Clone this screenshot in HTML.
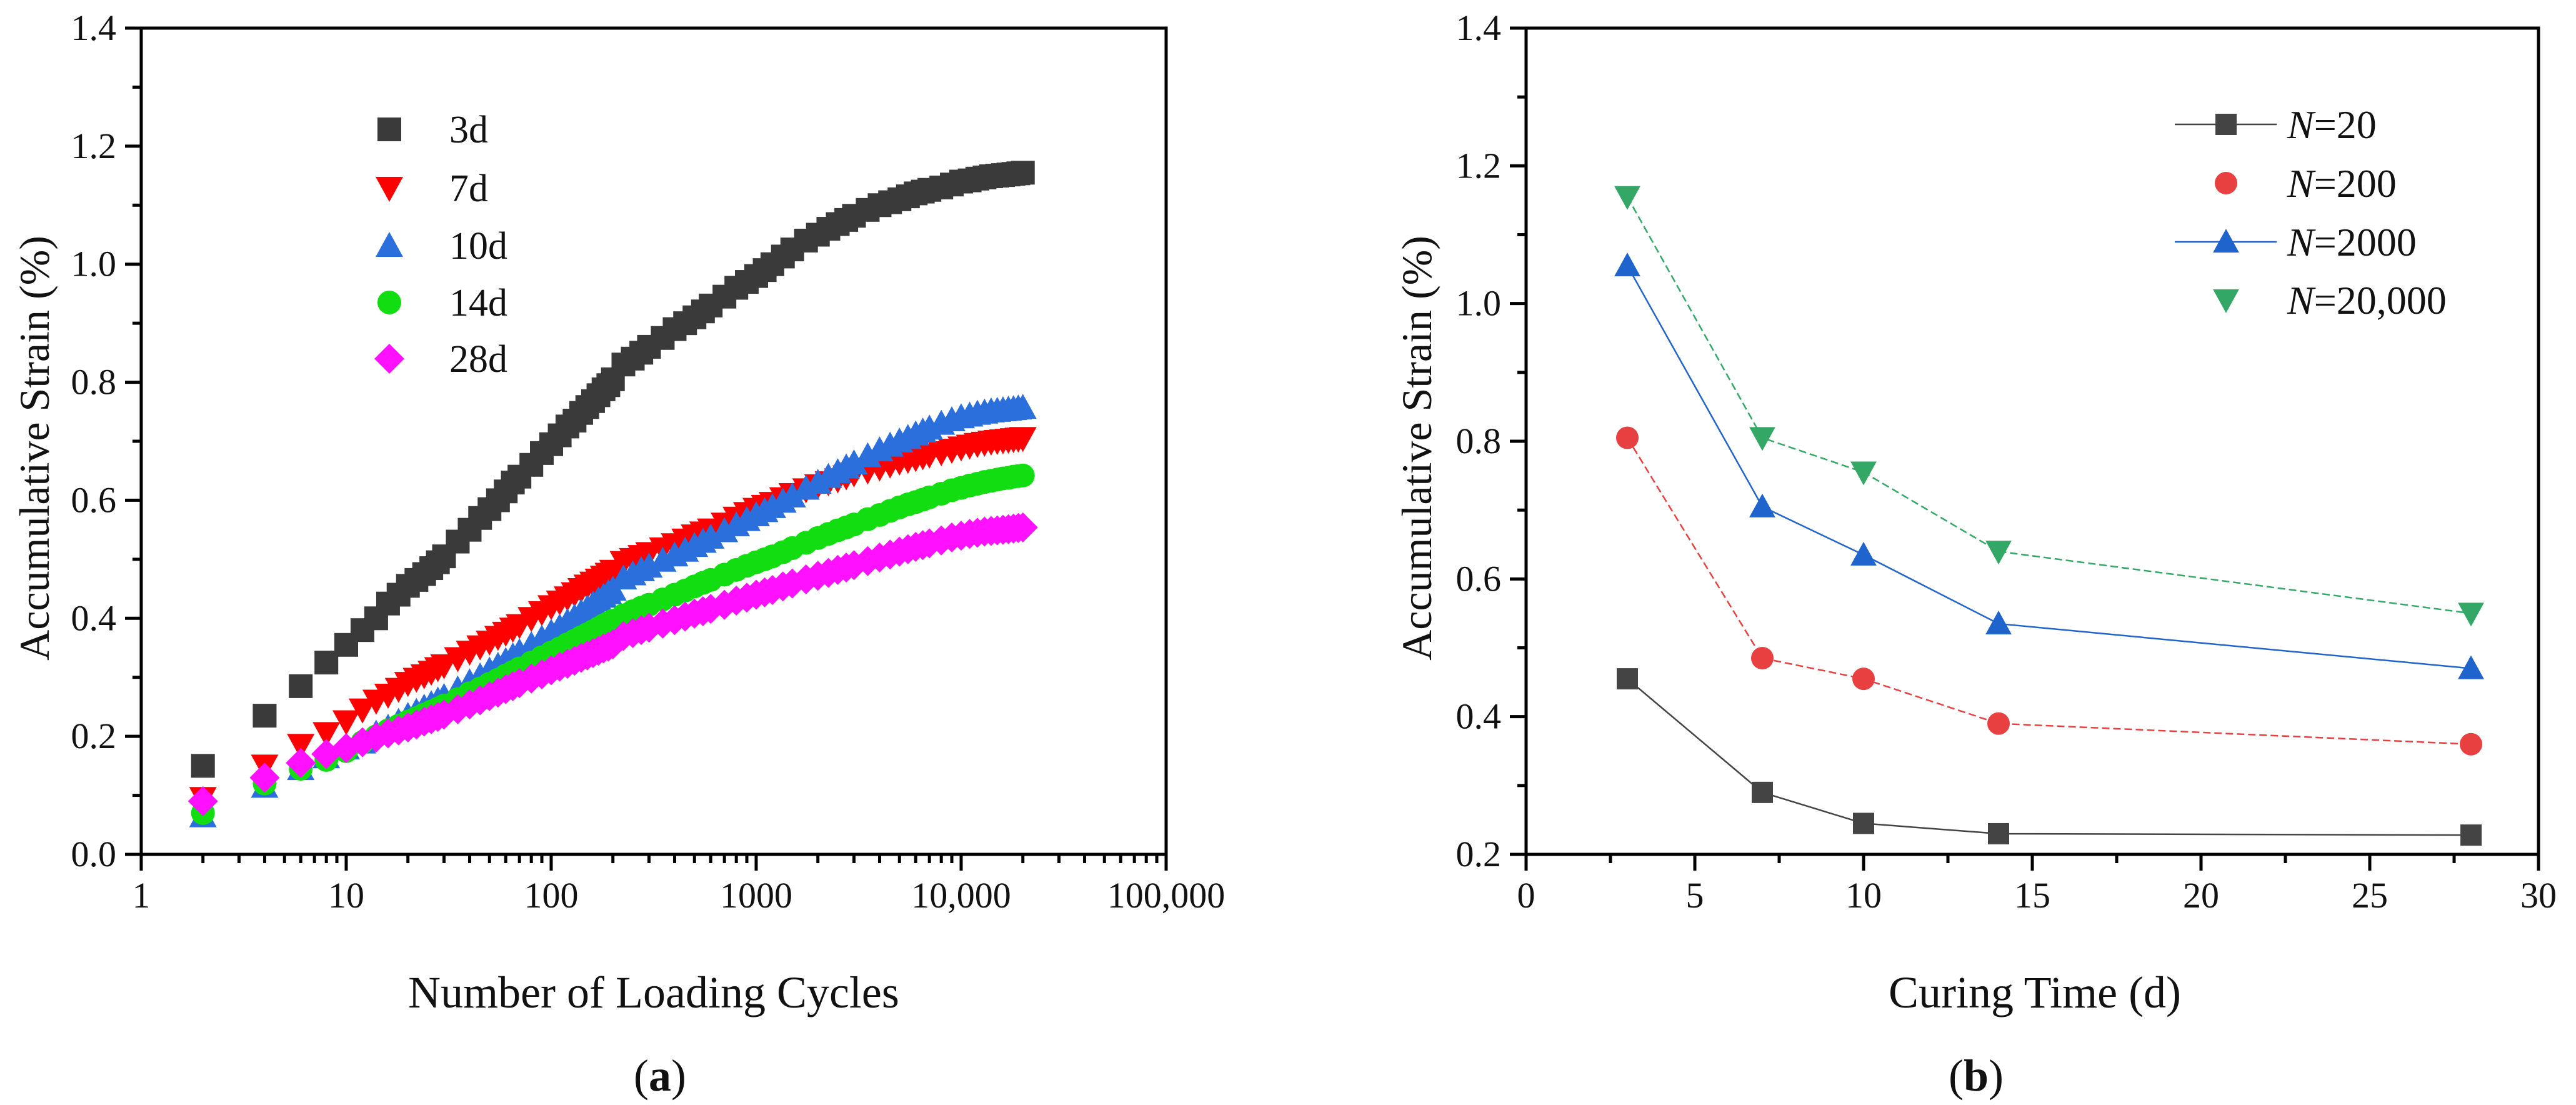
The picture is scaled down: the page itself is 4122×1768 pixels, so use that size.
<!DOCTYPE html>
<html><head><meta charset="utf-8">
<style>
html,body{margin:0;padding:0;background:#fff;}
svg{display:block;font-family:"Liberation Serif",serif;}
</style></head>
<body>
<svg id="fig" width="4122" height="1768" viewBox="0 0 4122 1768" xmlns="http://www.w3.org/2000/svg">
<rect width="4122" height="1768" fill="#fff"/>
<g id="pa"></g>
<g id="pb"></g>
</svg>
<script>
// Panel (a) data
const cyclesA = [2,4,6,8,10,12,14,16,18,20,22,24,26,28,30,35,40,45,50,55,60,65,70,80,90,100,110,120,130,140,150,160,170,180,190,200,225,250,275,300,350,400,450,500,550,600,700,800,900,1000,1100,1200,1350,1500,1750,2000,2250,2500,2750,3000,3500,4000,4500,5000,5500,6000,6500,7000,8000,9000,10000,11000,12000,13000,14000,15000,16000,17000,18000,19000,20000];
const s3d = [.15,.235,.285,.325,.355,.38,.40,.425,.44,.455,.465,.475,.485,.495,.505,.53,.55,.57,.585,.60,.615,.63,.64,.66,.68,.695,.71,.725,.735,.748,.758,.768,.778,.788,.795,.805,.83,.84,.85,.86,.875,.89,.90,.91,.92,.93,.945,.96,.97,.98,.99,1.0,1.013,1.025,1.04,1.05,1.06,1.068,1.075,1.082,1.092,1.10,1.105,1.11,1.115,1.12,1.123,1.126,1.13,1.135,1.14,1.142,1.145,1.147,1.149,1.15,1.151,1.152,1.153,1.154,1.155];
const s7d = [.095,.15,.185,.205,.225,.245,.26,.27,.28,.29,.297,.303,.309,.315,.32,.332,.343,.352,.36,.368,.375,.382,.388,.40,.41,.42,.428,.435,.442,.449,.455,.46,.465,.47,.475,.48,.495,.50,.505,.51,.518,.525,.533,.54,.545,.55,.56,.57,.578,.585,.59,.595,.603,.61,.618,.625,.63,.635,.64,.645,.65,.655,.66,.665,.668,.671,.674,.677,.681,.685,.689,.692,.695,.697,.699,.70,.701,.702,.703,.704,.705];
const s10d = [.065,.115,.145,.165,.18,.19,.205,.215,.225,.235,.242,.249,.255,.261,.267,.28,.292,.302,.312,.32,.328,.336,.343,.355,.366,.376,.385,.394,.402,.41,.417,.424,.431,.437,.443,.449,.468,.475,.482,.488,.498,.507,.515,.523,.53,.537,.548,.558,.567,.575,.582,.589,.598,.607,.62,.63,.64,.648,.656,.663,.675,.685,.693,.70,.706,.712,.717,.722,.73,.736,.741,.744,.747,.749,.751,.752,.753,.754,.755,.756,.757];
const s14d = [.07,.12,.145,.16,.175,.19,.20,.21,.218,.225,.231,.237,.242,.247,.252,.263,.273,.281,.289,.296,.303,.309,.315,.325,.334,.342,.349,.356,.362,.368,.373,.378,.383,.388,.392,.396,.405,.412,.418,.423,.432,.44,.447,.454,.46,.465,.474,.482,.489,.495,.50,.505,.512,.519,.528,.536,.543,.549,.554,.559,.568,.575,.582,.588,.593,.597,.601,.605,.611,.617,.621,.625,.628,.631,.633,.635,.637,.638,.64,.641,.642];
const s28d = [.09,.13,.155,.17,.18,.19,.198,.205,.21,.215,.22,.225,.229,.233,.237,.246,.254,.261,.268,.274,.28,.285,.29,.298,.305,.312,.318,.323,.328,.333,.337,.341,.345,.349,.352,.356,.37,.375,.38,.384,.391,.397,.403,.408,.412,.416,.423,.43,.435,.44,.444,.448,.454,.459,.466,.472,.477,.482,.486,.49,.497,.503,.508,.513,.517,.521,.524,.527,.532,.537,.54,.543,.545,.547,.548,.549,.55,.551,.552,.553,.554];
const xTicksA = [1,10,100,1000,10000,100000];
const xTickLabelsA = ["1","10","100","1000","10,000","100,000"];
const yTicksA = [0,0.2,0.4,0.6,0.8,1.0,1.2,1.4];
const yTickLabelsA = ["0.0","0.2","0.4","0.6","0.8","1.0","1.2","1.4"];
const seriesNamesA = ["3d","7d","10d","14d","28d"];

// Panel (b) data
const curingDays = [3,7,10,14,28];
const n20 = [0.455,0.29,0.245,0.23,0.228];
const n200 = [0.805,0.485,0.455,0.39,0.36];
const n2000 = [1.055,0.705,0.635,0.535,0.47];
const n20000 = [1.155,0.805,0.755,0.64,0.55];
const xTicksB = [0,5,10,15,20,25,30];
const yTicksB = [0.2,0.4,0.6,0.8,1.0,1.2,1.4];
const yTickLabelsB = ["0.2","0.4","0.6","0.8","1.0","1.2","1.4"];
const seriesNamesB = ["=20","=200","=2000","=20,000"];

const NS="http://www.w3.org/2000/svg";
function mk(parent,tag,attrs){const e=document.createElementNS(NS,tag);for(const k in attrs)e.setAttribute(k,attrs[k]);parent.appendChild(e);return e;}

function marker(g,shape,cx,cy,s,fill){
  let e;
  if(shape==="square"){e=mk(g,"rect",{x:cx-s/2,y:cy-s/2,width:s,height:s,fill:fill});}
  else if(shape==="circle"){e=mk(g,"circle",{cx:cx,cy:cy,r:s/2,fill:fill});}
  else if(shape==="up"){e=mk(g,"polygon",{points:`${cx},${cy-s*0.55} ${cx+s*0.55},${cy+s*0.45} ${cx-s*0.55},${cy+s*0.45}`,fill:fill});}
  else if(shape==="down"){e=mk(g,"polygon",{points:`${cx},${cy+s*0.55} ${cx+s*0.55},${cy-s*0.45} ${cx-s*0.55},${cy-s*0.45}`,fill:fill});}
  else {e=mk(g,"polygon",{points:`${cx},${cy-s*0.6} ${cx+s*0.6},${cy} ${cx},${cy+s*0.6} ${cx-s*0.6},${cy}`,fill:fill});}
  return e;
}

// ---------- Panel A ----------
(function(){
  const g=document.getElementById("pa");
  const L=226,R=1866,T=45,B=1367;
  const xs=v=>L+(Math.log10(v)-0)/5*(R-L);
  const ys=v=>B-(v/1.4)*(B-T);
  const frame=mk(g,"rect",{x:L,y:T,width:R-L,height:B-T,fill:"none",stroke:"#000","stroke-width":5});
  
  
  xTicksA.forEach((v,i)=>{
    const x=xs(v);
    const t=mk(g,"line",{x1:x,y1:B,x2:x,y2:B+26,stroke:"#000","stroke-width":5});
    
    
    const lb=mk(g,"text",{x:x,y:B+85,"font-size":58,"text-anchor":"middle",fill:"#111"});
    lb.textContent=xTickLabelsA[i];
    
    
    if(i<xTicksA.length-1){
      for(let m=2;m<=9;m++){
        const xm=xs(v*m);
        const mt=mk(g,"line",{x1:xm,y1:B,x2:xm,y2:B+14,stroke:"#000","stroke-width":5});
        
        
      }
    }
  });
  yTicksA.forEach((v,i)=>{
    const y=ys(v);
    const t=mk(g,"line",{x1:L-26,y1:y,x2:L,y2:y,stroke:"#000","stroke-width":5});
    
    
    const lb=mk(g,"text",{x:L-40,y:y+19,"font-size":58,"text-anchor":"end",fill:"#111"});
    lb.textContent=yTickLabelsA[i];
    
    
    if(i<yTicksA.length-1){
      const ym=ys(v+0.1);
      const mt=mk(g,"line",{x1:L-14,y1:ym,x2:L,y2:ym,stroke:"#000","stroke-width":5});
      
      
    }
  });
  const seriesA=[s3d,s7d,s10d,s14d,s28d];
  const shapesA=["square","down","up","circle","diamond"];
  const colorsA=["#3a3a3a","#ff0000","#2a6fdb","#11dd11","#ff11ff"];
  const sizesA=[38,40,40,38,40];
  seriesA.forEach((arr,si)=>{
    const sg=mk(g,"g",{});
    
    
    arr.forEach((v,j)=>{
      const p=marker(sg,shapesA[si],xs(cyclesA[j]),ys(v),sizesA[si],colorsA[si]);
      
      
    });
  });
  const lg=mk(g,"g",{});
  
  
  const legY=[207,301,393,484,574];
  seriesNamesA.forEach((n,i)=>{
    const eg=mk(lg,"g",{});
    
    
    marker(eg,shapesA[i],623,legY[i],sizesA[i],colorsA[i]);
    const t=mk(eg,"text",{x:719,y:legY[i]+21,"font-size":62,fill:"#111"});
    t.textContent=n;
  });
  const xt=mk(g,"text",{x:1046,y:1612,"font-size":72,"text-anchor":"middle",fill:"#111"});
  xt.textContent="Number of Loading Cycles";
  
  
  const yt=mk(g,"text",{x:0,y:0,"font-size":68,"text-anchor":"middle",fill:"#111",transform:"translate(78,717) rotate(-90)"});
  yt.textContent="Accumulative Strain (%)";
  
  
  const cap=mk(g,"text",{x:1056,y:1745,"font-size":72,"text-anchor":"middle",fill:"#111"});
  cap.innerHTML='(<tspan font-weight="bold">a</tspan>)';
  
  
})();

// ---------- Panel B ----------
(function(){
  const g=document.getElementById("pb");
  const L=2442,R=4062,T=45,B=1367;
  const xs=v=>L+v/30*(R-L);
  const ys=v=>B-(v-0.2)/1.2*(B-T);
  const frame=mk(g,"rect",{x:L,y:T,width:R-L,height:B-T,fill:"none",stroke:"#000","stroke-width":5});
  
  
  xTicksB.forEach((v,i)=>{
    const x=xs(v);
    const t=mk(g,"line",{x1:x,y1:B,x2:x,y2:B+26,stroke:"#000","stroke-width":5});
    
    
    const lb=mk(g,"text",{x:x,y:B+85,"font-size":58,"text-anchor":"middle",fill:"#111"});
    lb.textContent=String(v);
    
    
    if(i<xTicksB.length-1){
      const xm=xs(v+2.5);
      const mt=mk(g,"line",{x1:xm,y1:B,x2:xm,y2:B+14,stroke:"#000","stroke-width":5});
      
      
    }
  });
  yTicksB.forEach((v,i)=>{
    const y=ys(v);
    const t=mk(g,"line",{x1:L-26,y1:y,x2:L,y2:y,stroke:"#000","stroke-width":5});
    
    
    const lb=mk(g,"text",{x:L-40,y:y+19,"font-size":58,"text-anchor":"end",fill:"#111"});
    lb.textContent=yTickLabelsB[i];
    
    
    if(i<yTicksB.length-1){
      const ym=ys(v+0.1);
      const mt=mk(g,"line",{x1:L-14,y1:ym,x2:L,y2:ym,stroke:"#000","stroke-width":5});
      
      
    }
  });
  const seriesB=[n20,n200,n2000,n20000];
  const shapesB=["square","circle","up","down"];
  const colorsB=["#444444","#e84040","#1f63cc","#33a866"];
  const sizesB=[34,36,38,38];
  const dashB=["none","12 6","none","12 6"];
  seriesB.forEach((arr,si)=>{
    const sg=mk(g,"g",{});
    
    
    const pts=arr.map((v,j)=>xs(curingDays[j])+","+ys(v)).join(" ");
    const ln=mk(sg,"polyline",{points:pts,fill:"none",stroke:colorsB[si],"stroke-width":2.5,"stroke-dasharray":dashB[si]});
    
    
    arr.forEach((v,j)=>{
      const p=marker(sg,shapesB[si],xs(curingDays[j]),ys(v),sizesB[si],colorsB[si]);
      
      
    });
  });
  const lg=mk(g,"g",{});
  
  
  const legY=[199,293,387,480];
  const legLine=[true,false,true,false];
  seriesNamesB.forEach((n,i)=>{
    const eg=mk(lg,"g",{});
    
    
    if(legLine[i]) mk(eg,"line",{x1:3480,y1:legY[i],x2:3643,y2:legY[i],stroke:colorsB[i],"stroke-width":2.5});
    marker(eg,shapesB[i],3562,legY[i],sizesB[i],colorsB[i]);
    const t=mk(eg,"text",{x:3660,y:legY[i]+22,"font-size":64,fill:"#111"});
    t.innerHTML='<tspan font-style="italic">N</tspan>'+n;
  });
  const xt=mk(g,"text",{x:3256,y:1612,"font-size":72,"text-anchor":"middle",fill:"#111"});
  xt.textContent="Curing Time (d)";
  
  
  const yt=mk(g,"text",{x:0,y:0,"font-size":68,"text-anchor":"middle",fill:"#111",transform:"translate(2290,717) rotate(-90)"});
  yt.textContent="Accumulative Strain (%)";
  
  
  const cap=mk(g,"text",{x:3162,y:1745,"font-size":72,"text-anchor":"middle",fill:"#111"});
  cap.innerHTML='(<tspan font-weight="bold">b</tspan>)';
  
  
})();
</script>
</body></html>
